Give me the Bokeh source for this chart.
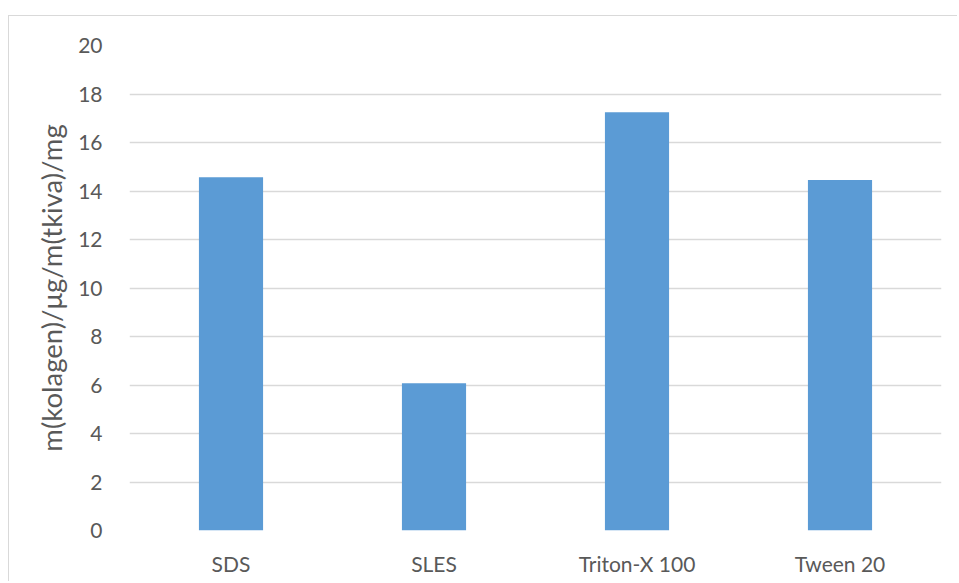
from bokeh.plotting import figure
from bokeh.models import Range1d, FixedTicker
from bokeh.embed import file_html
from bokeh.resources import INLINE

categories = ["SDS", "SLES", "Triton-X 100", "Tween 20"]
values = [14.57, 6.07, 17.25, 14.45]
y_ticks = [0, 2, 4, 6, 8, 10, 12, 14, 16, 18, 20]
y_title = "m(kolagen)/μg/m(tkiva)/mg"

FONT = "Lato"
TXT = "#595959"
GRID = "#d9d9d9"

p = figure(x_range=categories, y_range=Range1d(0, 20), width=949, height=566,
           output_backend="svg", toolbar_location=None,
           min_border_left=120, min_border_right=17, min_border_top=29, min_border_bottom=52)
p.styles = {"margin-left": "8px", "margin-top": "15px",
            "border-left": "1.5px solid #d9d9d9", "border-top": "1.5px solid #d9d9d9"}
p.vbar(x=categories, top=values, width=0.316, color="#5B9BD5", line_color=None)

p.outline_line_color = None
p.background_fill_color = "white"
p.border_fill_color = "white"

p.xgrid.grid_line_color = None
p.ygrid.grid_line_color = GRID
p.ygrid.grid_line_width = 1.4
p.yaxis.ticker = FixedTicker(ticks=y_ticks)

for ax in (p.xaxis[0], p.yaxis[0]):
    ax.axis_line_color = None
    ax.major_tick_line_color = None
    ax.minor_tick_line_color = None
    ax.major_tick_out = 0
    ax.major_tick_in = 0
    ax.major_label_text_font = FONT
    ax.major_label_text_color = TXT
    ax.major_label_text_font_size = "21px"

p.yaxis.major_label_standoff = 27
p.xaxis.major_label_standoff = 20
p.yaxis.axis_label = y_title
p.yaxis.axis_label_text_font = FONT
p.yaxis.axis_label_text_font_style = "normal"
p.yaxis.axis_label_text_color = TXT
p.yaxis.axis_label_text_font_size = "27.5px"
p.yaxis.axis_label_standoff = 7

open("out.html", "w").write(file_html(p, INLINE))
